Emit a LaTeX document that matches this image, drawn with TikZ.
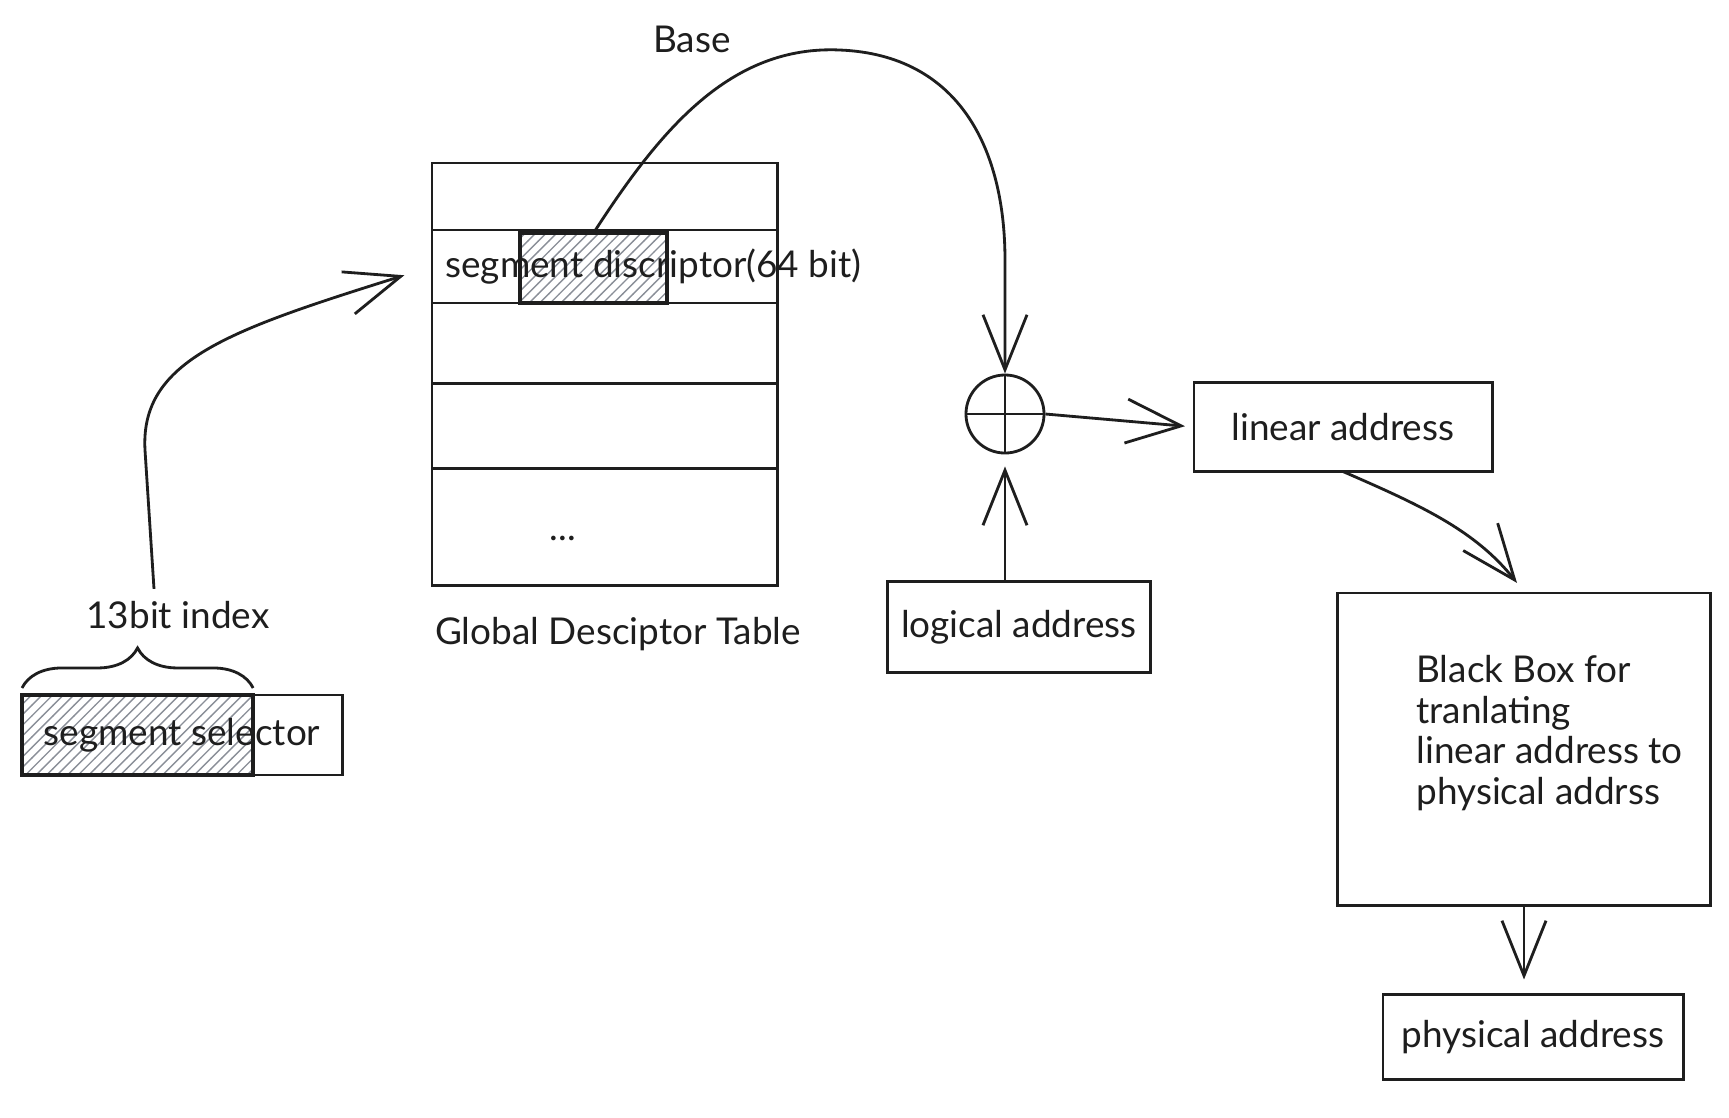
\documentclass[tikz,border=0pt]{standalone}
\usepackage{fontspec}
\setmainfont{Lato}
\usepackage{tikz}
\usetikzlibrary{arrows.meta,positioning,calc,patterns,decorations.pathreplacing}
\definecolor{ink}{HTML}{1E1E1E}
\definecolor{hatch}{HTML}{8A8F98}
\tikzset{
  tag/.style={font=\fontsize{10.5}{11.6}\selectfont, text=ink},
  addrbox/.style={
    draw=ink, thick, tag, inner sep=0pt, outer sep=0pt
  },
  cell/.style={
    draw=ink, thick, minimum width=3.45cm, inner sep=0pt, outer sep=0pt
  },
  hatched/.style={
    draw=ink, very thick, pattern=north east lines, pattern color=hatch,
    inner sep=0pt, outer sep=0pt
  },
  link/.style={-{Straight Barb[length=5.5mm,width=4.4mm]}, thick, ink},
}

\begin{document}
\begin{tikzpicture}[x=0.01cm, y=-0.01cm, node distance=0pt]
    \path[use as bounding box, fill=white] (0,0) rectangle (1729,1117);

    \node[hatched, minimum width=2.31cm, minimum height=0.8cm, anchor=north west] (idx) at (22,695) {};
    \node[addrbox, minimum width=3.2cm, minimum height=0.8cm, anchor=north west] (sel) at (idx.north west) {segment selector};
    \draw[thick, ink, decorate, decoration={brace, amplitude=0.4cm}]
         ([yshift=2pt]idx.north west) -- ([yshift=2pt]idx.north east);
    \node[tag] (idxlbl) at (178,615) {13bit index};

    \node[cell, minimum height=0.67cm, anchor=north west] (row0) at (432,163) {};
    \node[cell, minimum height=0.73cm, below=of row0] (row1) {};
    \node[cell, minimum height=0.80cm, below=of row1] (row2) {};
    \node[cell, minimum height=0.85cm, below=of row2] (row3) {};
    \node[cell, minimum height=1.17cm, below=of row3] (row4) {};
    \node[hatched, minimum width=1.47cm, minimum height=0.70cm, anchor=south west] (desc) at (520,303) {};
    \node[tag, anchor=west] (desctxt) at ([xshift=0.01cm]row1.west) {segment discriptor(64 bit)};
    \node[tag] (dots) at (563,538) {...};
    \node[tag] (gdtlbl) at (618,634) {Global Desciptor Table};
    \node[tag] (baselbl) at (692,39) {Base};

    \node[draw=ink, thick, circle, minimum size=0.78cm, inner sep=0pt] (sum) at (1005,414) {};
    \draw[thick, ink] (sum.north) -- (sum.south) (sum.west) -- (sum.east);

    \node[addrbox, minimum width=2.98cm, minimum height=0.89cm] (lin) at (1343,427) {linear address};
    \node[addrbox, minimum width=2.63cm, minimum height=0.91cm] (logic) at (1019,627) {logical address};
    \node[addrbox, minimum width=3.73cm, minimum height=3.12cm] (bb) at (1524,749) {};
    \node[tag, align=left, anchor=west] (bbnote) at (1404,733)
         {Black Box for\\tranlating\\linear address to\\physical addrss};
    \node[addrbox, minimum width=3.0cm, minimum height=0.85cm] (phys) at (1533,1037) {physical address};

    \draw[link, shorten >=0.29cm] ($(idxlbl.north)+(-24,0)$) -- (145,450)
         .. controls (140,360) and (230,330) .. (row1.west);
    \draw[link] (desc.north) .. controls (660,130) and (730,45) .. (840,50)
         .. controls (960,55) and (1005,150) .. (1005,260) -- (sum.north);
    \draw[link, shorten >=0.12cm] (sum |- logic.north) -- (sum.south);
    \draw[link, shorten >=0.09cm] (sum.east) -- (lin.west);
    \draw[link] (lin.south) .. controls (1420,505) and (1475,530)
         .. ([xshift=-0.07cm, yshift=0.1cm]bb.north);
    \draw[link, shorten >=0.15cm] (bb.south) -- (bb.south |- phys.north);
\end{tikzpicture}
\end{document}
